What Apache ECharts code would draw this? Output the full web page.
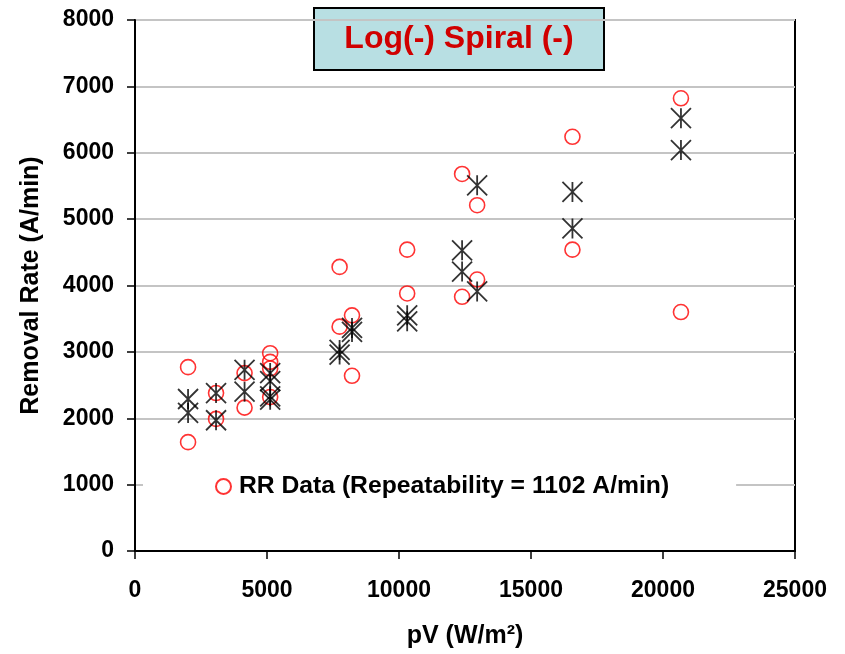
<!DOCTYPE html>
<html>
<head>
<meta charset="utf-8">
<script src="https://cdn.jsdelivr.net/npm/echarts@6/dist/echarts.min.js"></script>
<style>html,body{margin:0;padding:0;background:#fff;}#c{width:845px;height:654px;}</style>
</head>
<body>
<div id="c"></div>
<script>
// RR Data (red circles)
var rrX = [2010,2010,3070,3070,4150,4150,5120,5120,5120,5120,7750,7750,8220,8220,10310,10310,12390,12390,12960,12960,16570,16570,20680,20680];
var rrY = [1640,2770,2380,1990,2680,2160,2980,2850,2750,2320,4280,3380,3550,2640,4540,3880,5680,3830,5210,4090,6240,4540,6820,3600];
// Model (black asterisks)
var mX = [2010,2010,3070,3070,4150,4150,5120,5120,5120,5120,7750,7750,8220,8220,10310,10310,12390,12390,12960,12960,16570,16570,20680,20680];
var mY = [2290,2080,2380,1970,2730,2400,2680,2560,2330,2280,3030,2960,3360,3300,3550,3460,4530,4210,5510,3910,5410,4860,6520,6040];
var xTicks = [0,5000,10000,15000,20000,25000];
var yTicks = [0,1000,2000,3000,4000,5000,6000,7000,8000];
var titleText = 'Log(-) Spiral (-)';
var legendText = 'RR Data (Repeatability = 1102 A/min)';

var FF = '"Liberation Sans", Arial, sans-serif';
function pairs(xs, ys){ return xs.map(function(x,i){ return [x, ys[i]]; }); }
function plain(v){ return String(v); }

var chart = echarts.init(document.getElementById('c'), null, {renderer:'canvas'});
chart.setOption({
  animation: false,
  backgroundColor: '#fff',
  grid: {left: 135, top: 20, right: 50, bottom: 103, containLabel: false, outerBoundsMode: 'none',
         show: true, borderColor: '#000', borderWidth: 2, backgroundColor: 'transparent'},
  xAxis: {
    type: 'value', min: xTicks[0], max: xTicks[xTicks.length-1], interval: 5000,
    name: 'pV (W/m²)', nameLocation: 'middle', nameGap: 73,
    nameTextStyle: {fontFamily: FF, fontWeight: 'bold', fontSize: 25, color: '#000'},
    axisLine: {show: true, onZero: false, lineStyle: {color: '#000', width: 2}},
    axisTick: {show: true, inside: false, length: 8, lineStyle: {color: '#000', width: 1.5}},
    axisLabel: {fontFamily: FF, fontWeight: 'bold', fontSize: 23, color: '#000', margin: 28, formatter: plain},
    splitLine: {show: false}
  },
  yAxis: {
    type: 'value', min: yTicks[0], max: yTicks[yTicks.length-1], interval: 1000,
    name: 'Removal Rate (A/min)', nameLocation: 'middle', nameGap: 91, nameRotate: 90,
    nameTextStyle: {fontFamily: FF, fontWeight: 'bold', fontSize: 25, color: '#000'},
    axisLine: {show: true, onZero: false, lineStyle: {color: '#000', width: 2}},
    axisTick: {show: true, inside: false, length: 8, lineStyle: {color: '#000', width: 1.5}},
    axisLabel: {fontFamily: FF, fontWeight: 'bold', fontSize: 23, color: '#000', margin: 21, formatter: plain},
    splitLine: {show: true, lineStyle: {color: '#c4c4c4', width: 2}}
  },
  legend: {
    show: true, data: ['RR Data'],
    formatter: function(){ return legendText; },
    left: 143, top: 466,
    padding: [8, 67, 8, 72],
    backgroundColor: '#fff',
    itemWidth: 15, itemHeight: 15, icon: 'circle',
    textStyle: {fontFamily: FF, fontWeight: 'bold', fontSize: 24.7, color: '#000', lineHeight: 24, padding: [0,0,0,3]}
  },
  graphic: [{
    type: 'group', left: 313, top: 7, z: 100,
    children: [
      {type: 'rect', shape: {x: 0, y: 0, width: 290, height: 62}, style: {fill: '#b8dfe3', stroke: '#000', lineWidth: 2}},
      {type: 'text', x: 145, y: 31, style: {text: titleText, fill: '#d00000', font: 'bold 32px "Liberation Sans", Arial, sans-serif', align: 'center', verticalAlign: 'middle'}}
    ]
  }],
  series: [
    {
      name: 'RR Data', type: 'scatter', data: pairs(rrX, rrY), z: 2,
      symbol: 'circle', symbolSize: 15,
      itemStyle: {color: 'rgba(255,255,255,0)', borderColor: '#ff0000', borderWidth: 1.6}
    },
    {
      name: 'Model', type: 'scatter', data: pairs(mX, mY), z: 3,
      symbol: 'path://M0,0L20,20M20,0L0,20M10,0L10,20', symbolSize: [20, 20],
      itemStyle: {color: 'none', borderColor: '#000', borderWidth: 1.8}
    }
  ]
});
</script>
</body>
</html>
